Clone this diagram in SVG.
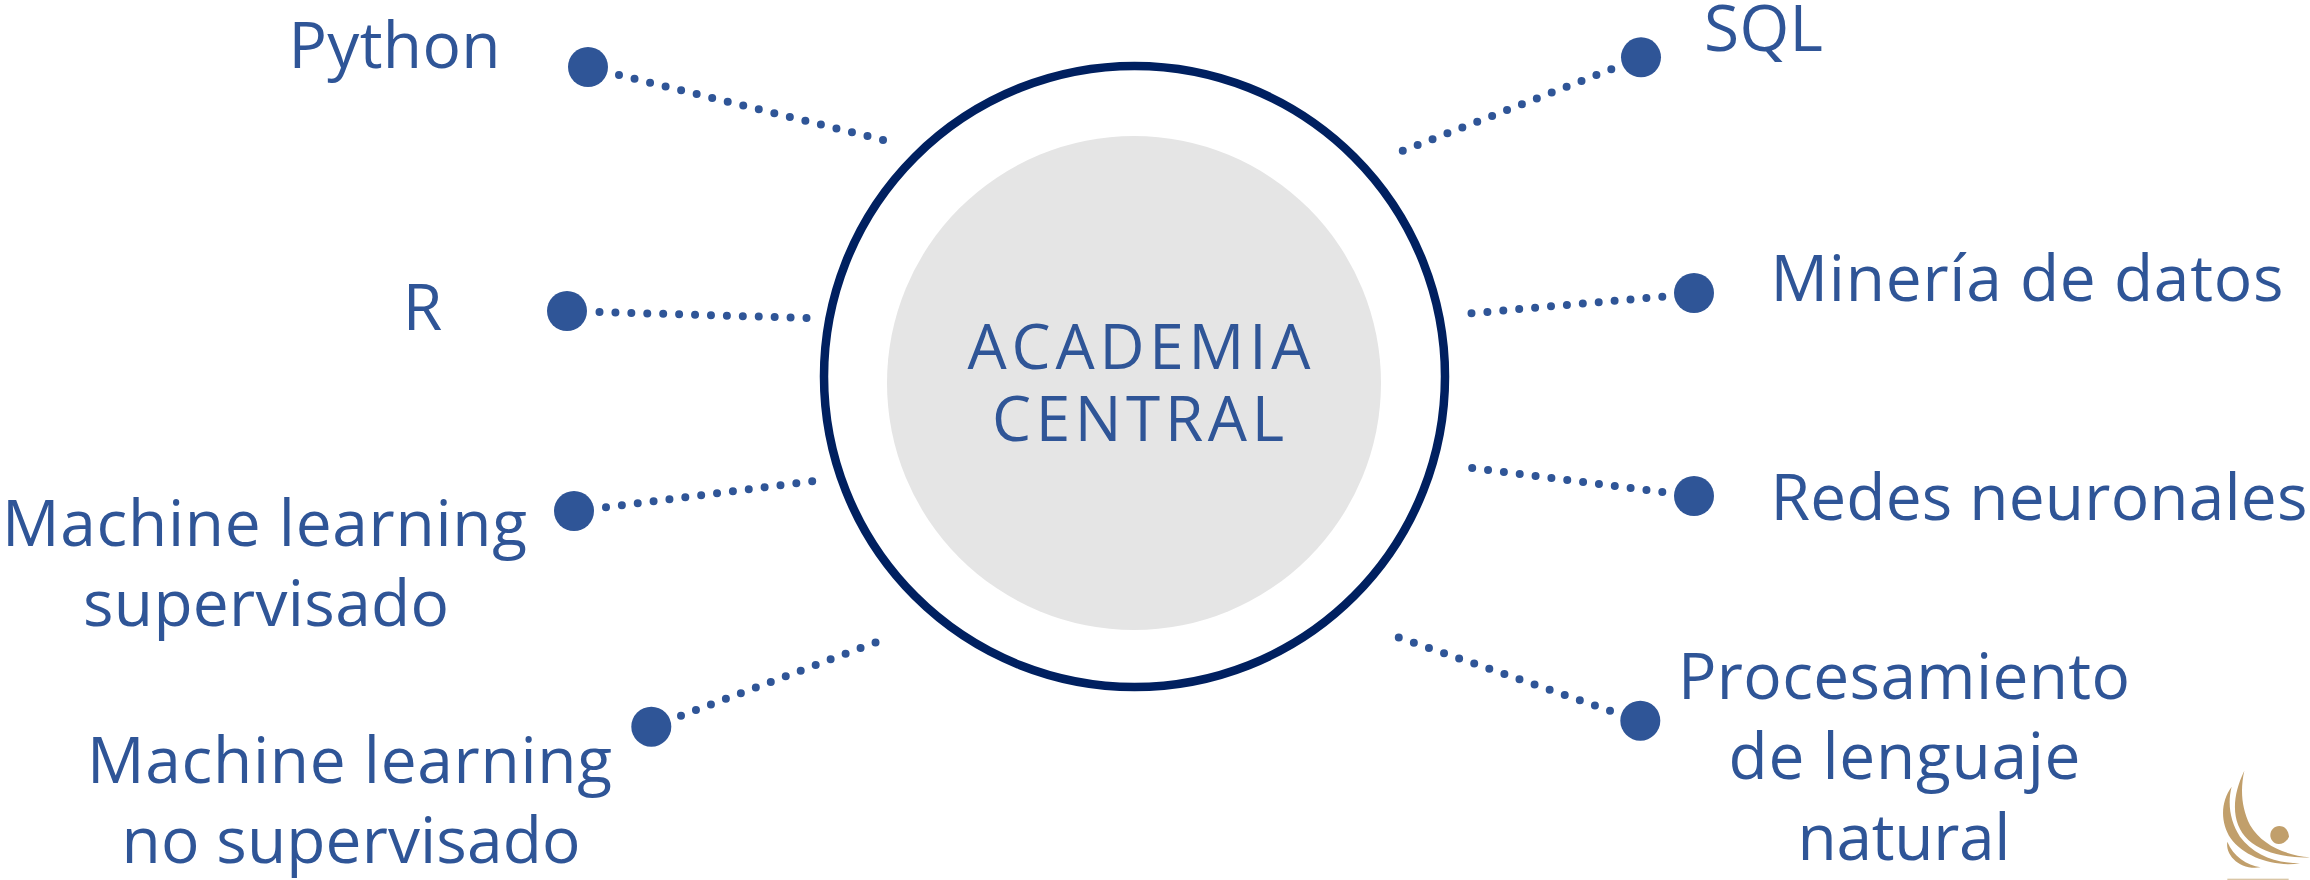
<svg xmlns="http://www.w3.org/2000/svg" width="2310" height="880" viewBox="0 0 2310 880">
<style>
text{font-family:"Open Sans","Noto Sans","Liberation Sans",sans-serif;fill:#2F5597;font-size:64px;text-anchor:middle}
.c{font-size:62px}
.d{fill:#2F5597}
.l{fill:none;stroke:#2F5597;stroke-width:8;stroke-linecap:round;stroke-dasharray:0 16}
.g{fill:#C19F6B}
</style>
<rect width="2310" height="880" fill="#fff"/>
<g id="connectors">
<path class="l" pathLength="272.5" d="M619 75L883.500 140"/>
<path class="l" pathLength="208.500" d="M599.500 312L807 318"/>
<path class="l" pathLength="208.500" d="M606 507.300L812.700 481.300"/>
<path class="l" pathLength="208.500" d="M681 715.700L876 642.300"/>
<path class="l" pathLength="224.500" d="M1611.300 69.300L1402.300 151"/>
<path class="l" pathLength="192.500" d="M1662.300 296.700L1471 313.300"/>
<path class="l" pathLength="192.500" d="M1662.300 492L1471.700 468"/>
<path class="l" pathLength="224.500" d="M1610 710.700L1398.300 637.300"/>
</g>
<g id="center">
<circle cx="1134.500" cy="376.500" r="310.500" fill="#fff" stroke="#002060" stroke-width="8.500"/>
<circle cx="1134" cy="383" r="247" fill="#E5E5E5"/>
<text class="c" x="1139" y="369" textLength="343">ACADEMIA</text>
<text class="c" x="1138" y="441" textLength="292">CENTRAL</text>
</g>
<g id="python"><circle class="d" cx="588" cy="67" r="20"/><text x="394.500" y="68" textLength="212">Python</text></g>
<g id="r"><circle class="d" cx="567" cy="311" r="20"/><text x="422.500" y="330">R</text></g>
<g id="ml-sup"><circle class="d" cx="574" cy="511" r="20"/><text x="264.500" y="545.500" textLength="525">Machine learning</text><text x="266" y="626" textLength="366">supervisado</text></g>
<g id="ml-nosup"><circle class="d" cx="651.300" cy="726.700" r="20"/><text x="349.500" y="783" textLength="525">Machine learning</text><text x="351" y="863" textLength="459">no supervisado</text></g>
<g id="sql"><circle class="d" cx="1641" cy="57.300" r="20"/><text x="1763.500" y="51" textLength="119">SQL</text></g>
<g id="mineria"><circle class="d" cx="1694" cy="293" r="20"/><text x="2027" y="301" textLength="513">Minería de datos</text></g>
<g id="redes"><circle class="d" cx="1694" cy="496" r="20"/><text x="2039" y="519.500" textLength="537">Redes neuronales</text></g>
<g id="pln"><circle class="d" cx="1640.300" cy="720.700" r="20"/><text x="1904" y="698.500" textLength="452">Procesamiento</text><text x="1904.500" y="779" textLength="352">de lenguaje</text><text x="1904" y="860" textLength="213">natural</text></g>
<g id="logo" transform="translate(2190 740) scale(.3333)">
<path class="g" d="M163 92C125 170 122 250 175 300C215 337 290 356 360 352C285 345 215 315 180 255C155 205 150 150 163 92Z"/>
<path class="g" d="M125 140C92 185 90 245 122 295C162 352 255 382 330 370C260 370 190 345 150 290C120 245 112 190 125 140Z"/>
<path class="g" d="M112 305C105 345 150 392 212 382C170 375 130 350 112 305Z"/>
<path class="g" d="M268 258C287 258 296 275 297 290C290 305 278 312 266 312C250 312 241 298 241 285C241 270 253 258 268 258Z"/>
<rect x="112" y="416" width="184" height="4" fill="#D9C6A5"/>
</g>
</svg>
